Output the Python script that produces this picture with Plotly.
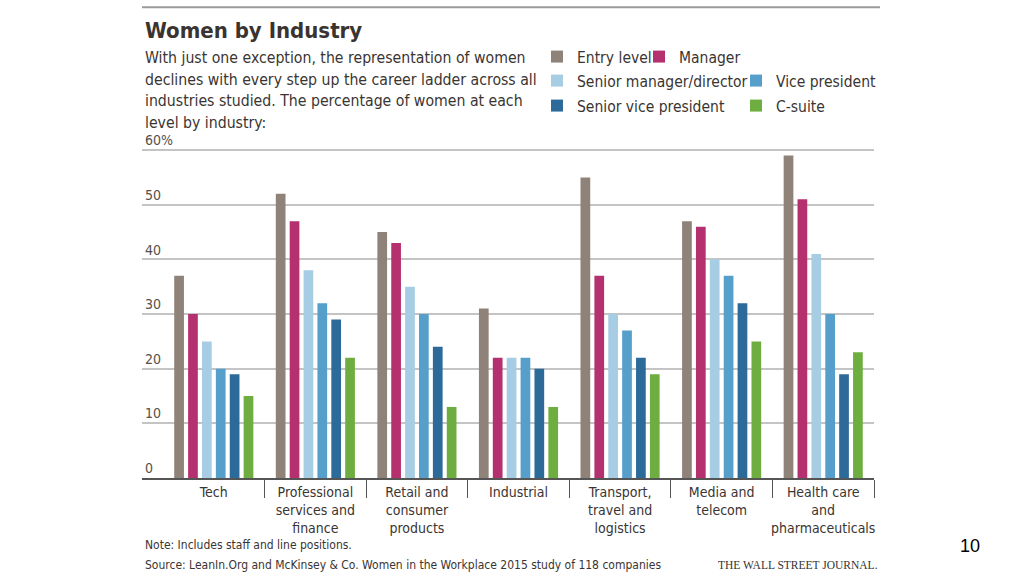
import plotly.graph_objects as go

categories = ["Tech", "Professional<br>services and<br>finance", "Retail and<br>consumer<br>products",
              "Industrial", "Transport,<br>travel and<br>logistics", "Media and<br>telecom",
              "Health care<br>and<br>pharmaceuticals"]
series_names = ["Entry level", "Manager", "Senior manager/director", "Vice president",
                "Senior vice president", "C-suite"]
entry_level = [37, 52, 45, 31, 55, 47, 59]
manager = [30, 47, 43, 22, 37, 46, 51]
senior_manager = [25, 38, 35, 22, 30, 40, 41]
vice_president = [20, 32, 30, 22, 27, 37, 30]
senior_vp = [19, 29, 24, 20, 22, 32, 19]
c_suite = [15, 22, 13, 13, 19, 25, 23]
y_tickvals = [0, 10, 20, 30, 40, 50, 60]
y_ticktext = ["0", "10", "20", "30", "40", "50", "60%"]

colors = ["#8f8279", "#b5306f", "#a6cde3", "#569fca", "#2c6a99", "#6eae40"]
legend_ids = ["legend", "legend", "legend2", "legend2", "legend3", "legend3"]
values = [entry_level, manager, senior_manager, vice_president, senior_vp, c_suite]

FONT = "Liberation Sans Narrow, DejaVu Sans Condensed, Roboto Condensed, Arial Narrow, sans-serif"
TXT = "#3a3532"

# plot area in pixels (y range extends above 60 so the "60%" label fits inside)
YMAX = 63.5
L, R, B = 142, 874, 478
H = (478 - 150) * YMAX / 60
T = B - H
W = R - L


def px(x):
    return (x - L) / W


def py(y):
    return (B - y) / H


fig = go.Figure()
for name, vals, col, lg in zip(series_names, values, colors, legend_ids):
    fig.add_trace(go.Bar(x=categories, y=vals, name=name, marker=dict(color=col, line=dict(width=0)),
                         legend=lg))

ncat = len(categories)
catw = (R - 163) / ncat
left_ext = (163 - L) / catw

fig.update_layout(
    width=1024, height=576,
    margin=dict(l=L, r=1024 - R, t=T, b=576 - B, autoexpand=False),
    paper_bgcolor="white", plot_bgcolor="white",
    barmode="group", bargap=0.18, bargroupgap=0.3,
    font=dict(family=FONT, color=TXT, size=15),
    xaxis=dict(range=[-0.5 - left_ext, ncat - 0.5], showgrid=False, showline=True, linecolor="#555555",
               linewidth=1.5, ticks="outside", tickson="boundaries", ticklen=18, tickcolor="#555555",
               tickwidth=1.2, tickfont=dict(size=14, color=TXT), ticklabelstandoff=0, tickangle=0,
               automargin=False, fixedrange=True),
    yaxis=dict(range=[0, YMAX], tickvals=y_tickvals, ticktext=y_ticktext, showgrid=True,
               gridcolor="#c4c4c4", gridwidth=1.5, zeroline=False, showline=False, ticks="",
               ticklabelposition="inside top", tickfont=dict(size=14, color="#55504c"),
               automargin=False, fixedrange=True),
    legend=dict(orientation="h", xref="container", yref="container", x=537 / 1024, y=1 - 40 / 576,
                xanchor="left", yanchor="top", entrywidth=57, font=dict(size=15.5, color=TXT),
                bgcolor="rgba(0,0,0,0)", traceorder="normal"),
    legend2=dict(orientation="h", xref="container", yref="container", x=537 / 1024, y=1 - 64 / 576,
                 xanchor="left", yanchor="top", entrywidth=154, font=dict(size=15.5, color=TXT),
                 bgcolor="rgba(0,0,0,0)", traceorder="normal"),
    legend3=dict(orientation="h", xref="container", yref="container", x=537 / 1024, y=1 - 89 / 576,
                 xanchor="left", yanchor="top", entrywidth=154, font=dict(size=15.5, color=TXT),
                 bgcolor="rgba(0,0,0,0)", traceorder="normal"),
    showlegend=True,
)

subtitle_lines = ["With just one exception, the representation of women",
                  "declines with every step up the career ladder across all",
                  "industries studied. The percentage of women at each",
                  "level by industry:"]
subtitle_y = [57, 79, 100.5, 122]

annotations = [
    dict(text="<b>Women by Industry</b>", x=px(143), y=py(30), xanchor="left", yanchor="middle",
         font=dict(size=22, color="#3a332f")),
    dict(text="Note: Includes staff and line positions.", x=px(143), y=py(545), xanchor="left",
         yanchor="middle", font=dict(size=12, color=TXT)),
    dict(text="Source: LeanIn.Org and McKinsey &amp; Co. Women in the Workplace 2015 study of 118 companies",
         x=px(143), y=py(565), xanchor="left", yanchor="middle", font=dict(size=12, color=TXT)),
    dict(text="THE WALL STREET JOURNAL.", x=px(880), y=py(565), xanchor="right", yanchor="middle",
         font=dict(size=11.5, color="#333333", family="Liberation Serif, DejaVu Serif, serif")),
    dict(text="10", x=px(982), y=py(546), xanchor="right", yanchor="middle",
         font=dict(size=18, color="#000000", family="Liberation Sans, Arial, sans-serif")),
]
for line, yy in zip(subtitle_lines, subtitle_y):
    annotations.append(dict(text=line, x=px(143), y=py(yy), xanchor="left", yanchor="middle",
                            font=dict(size=15.7, color=TXT)))
for a in annotations:
    a.update(xref="paper", yref="paper", showarrow=False)
fig.update_layout(annotations=annotations)

fig.add_shape(type="line", xref="paper", yref="paper", x0=px(142), x1=px(880), y0=py(7), y1=py(7),
              line=dict(color="#9a9a9a", width=2))

fig.write_html("out.html", config={"displayModeBar": False},
               post_script="document.body.style.margin='0';document.body.style.overflow='hidden';")
